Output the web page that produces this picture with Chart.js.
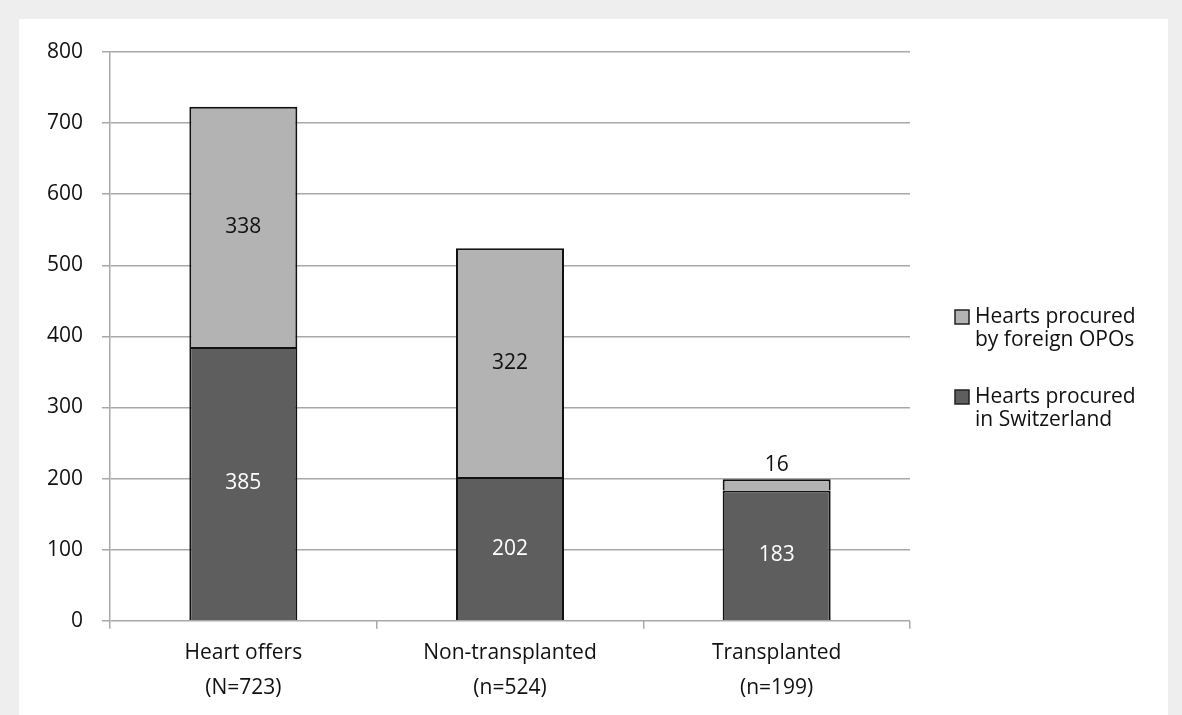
<!DOCTYPE html>
<html>
<head>
<meta charset="utf-8">
<script src="https://cdn.jsdelivr.net/npm/chart.js@4"></script>
<style>
  body { margin: 0; background: #eeeeee; }
  #wrap { position: absolute; left: 19px; top: 19px; width: 1149px; height: 696px; background: #fff; }
</style>
</head>
<body>
<div id="wrap"><canvas id="heartChart"></canvas></div>
<script>
const categories = [['Heart offers', '(N=723)'], ['Non-transplanted', '(n=524)'], ['Transplanted', '(n=199)']];
const switzerland = [385, 202, 183];
const foreign = [338, 322, 16];
const yTicks = [0, 100, 200, 300, 400, 500, 600, 700, 800];
const legendLabels = [['Hearts procured', 'by foreign OPOs'], ['Hearts procured', 'in Switzerland']];

const DARK = '#5e5e5e', LIGHT = '#b3b3b3', GRID = '#a8a8a8', TEXT = '#111111';
const FONT = '"Open Sans", Lato, sans-serif';

// numbers in the bars
const barLabels = {
    id: 'barLabels',
    afterDatasetsDraw(chart) {
        const ctx = chart.ctx;
        ctx.save();
        ctx.font = '21px ' + FONT;
        ctx.textAlign = 'center';
        ctx.textBaseline = 'middle';
        chart.data.datasets.forEach((ds, i) => {
            chart.getDatasetMeta(i).data.forEach((bar, j) => {
                const h = Math.abs(bar.base - bar.y);
                if (h < 24) {
                    ctx.fillStyle = TEXT;
                    ctx.fillText(ds.data[j], bar.x, bar.y - 14);
                } else {
                    ctx.fillStyle = ds.backgroundColor === DARK ? '#ffffff' : TEXT;
                    ctx.fillText(ds.data[j], bar.x, (bar.y + bar.base) / 2);
                }
            });
        });
        ctx.restore();
    }
};

// legend on the right, two lines per item
const sideLegend = {
    id: 'sideLegend',
    afterDraw(chart) {
        const ctx = chart.ctx;
        const items = [{ c: LIGHT, y: 291 }, { c: DARK, y: 371 }];
        ctx.save();
        ctx.font = '21px ' + FONT;
        ctx.textBaseline = 'middle';
        ctx.textAlign = 'left';
        items.forEach((it, i) => {
            ctx.fillStyle = it.c;
            ctx.fillRect(936, it.y, 14, 14);
            ctx.strokeStyle = '#222';
            ctx.lineWidth = 1.5;
            ctx.strokeRect(936, it.y, 14, 14);
            ctx.fillStyle = TEXT;
            ctx.fillText(legendLabels[i][0], 956, it.y + 7);
            ctx.fillText(legendLabels[i][1], 956, it.y + 30);
        });
        ctx.restore();
    }
};

new Chart(document.getElementById('heartChart'), {
    type: 'bar',
    data: {
        labels: categories,
        datasets: [{
            label: 'Hearts procured in Switzerland',
            data: switzerland,
            backgroundColor: DARK,
            borderColor: '#111',
            borderWidth: 2,
            categoryPercentage: 1,
            barPercentage: 0.405
        }, {
            label: 'Hearts procured by foreign OPOs',
            data: foreign,
            backgroundColor: LIGHT,
            borderColor: '#111',
            borderWidth: 2,
            categoryPercentage: 1,
            barPercentage: 0.405
        }]
    },
    options: {
        responsive: true,
        maintainAspectRatio: false,
        animation: false,
        layout: { padding: { top: 33, right: 258, left: 0, bottom: 0 } },
        plugins: { legend: { display: false }, tooltip: { enabled: false } },
        scales: {
            x: {
                stacked: true,
                afterFit: s => { s.height = 94.3; },
                grid: { offset: true, drawOnChartArea: false, tickLength: 8, color: GRID, lineWidth: 1.5 },
                border: { display: false },
                ticks: { color: TEXT, padding: 7, font: { family: FONT, size: 21, lineHeight: 1.67 } }
            },
            y: {
                stacked: true,
                min: 0,
                max: 800,
                afterFit: s => { s.width = 91; },
                afterBuildTicks: s => { s.ticks = yTicks.map(v => ({ value: v })); },
                grid: { color: GRID, lineWidth: 1.5, tickLength: 8 },
                border: { color: GRID, width: 1.5 },
                ticks: { color: TEXT, padding: 19, font: { family: FONT, size: 21 } }
            }
        }
    },
    plugins: [barLabels, sideLegend]
});
</script>
</body>
</html>
